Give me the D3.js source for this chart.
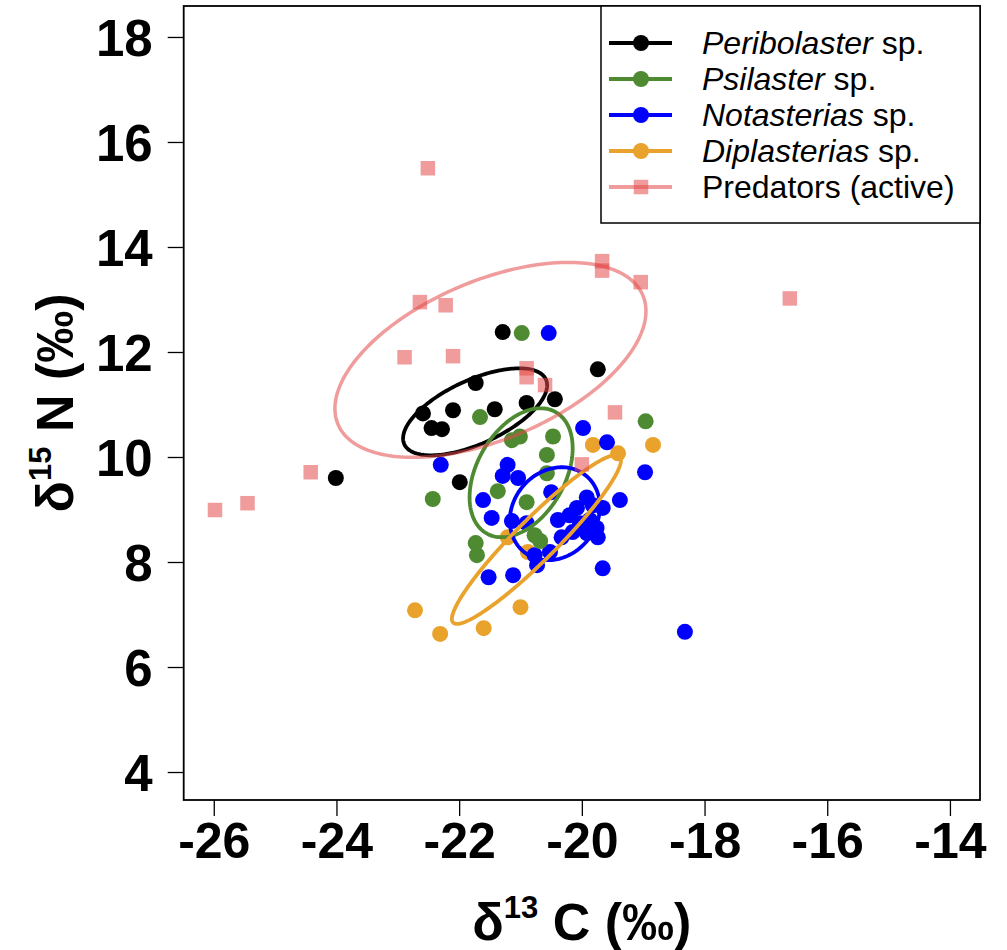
<!DOCTYPE html>
<html>
<head>
<meta charset="utf-8">
<script src="https://cdn.jsdelivr.net/npm/d3@7"></script>
<style>
  body { margin: 0; background: #fff; }
  text { font-family: "Liberation Sans", Arial, sans-serif; }
</style>
</head>
<body>
<div id="chart"></div>
<script>
(function() {
  var xTicks = [-26, -24, -22, -20, -18, -16, -14];
  var yTicks = [4, 6, 8, 10, 12, 14, 16, 18];

  // Peribolaster sp.
  var periX = [-24.01, -21.29, -19.74, -21.73, -22.59, -22.10, -21.42, -22.45, -22.28, -20.90, -20.44, -21.99];
  var periY = [9.60, 12.38, 11.67, 11.41, 10.83, 10.89, 10.91, 10.55, 10.53, 11.03, 11.10, 9.52];

  // Psilaster sp.
  var psilX = [-20.98, -21.66, -21.14, -21.01, -20.47, -20.57, -20.57, -18.96, -22.43, -21.37, -20.90, -21.73, -21.71, -20.77, -20.68];
  var psilY = [12.36, 10.76, 10.32, 10.39, 10.39, 10.04, 9.69, 10.68, 9.20, 9.35, 9.14, 8.36, 8.13, 8.51, 8.40];

  // Notasterias sp.
  var notaX = [-20.54, -22.30, -19.98, -19.59, -18.97, -21.21, -21.29, -21.04, -21.61, -21.47, -21.14, -20.90, -20.50, -19.92, -20.08, -19.82, -19.66, -19.38, -20.39, -20.20, -20.03, -19.87, -19.76, -20.33, -20.15, -19.92, -19.74, -20.52, -20.77, -20.73, -19.66, -21.52, -21.12, -18.32];
  var notaY = [12.36, 9.85, 10.55, 10.28, 9.71, 9.85, 9.64, 9.60, 9.18, 8.84, 8.78, 8.74, 9.33, 9.23, 9.03, 9.08, 9.03, 9.18, 8.80, 8.89, 8.74, 8.80, 8.65, 8.47, 8.57, 8.55, 8.47, 8.19, 8.13, 7.94, 7.88, 7.71, 7.75, 6.67];

  // Diplasterias sp.
  var diplX = [-22.72, -22.31, -21.60, -21.00, -19.82, -18.84, -19.41, -21.21, -20.88];
  var diplY = [7.08, 6.63, 6.74, 7.14, 10.23, 10.23, 10.07, 8.47, 8.19];

  // Predators (active)
  var predX = [-25.98, -25.45, -24.42, -22.51, -22.64, -22.22, -22.89, -22.10, -20.90, -20.90, -20.60, -19.46, -20.00, -19.67, -19.67, -19.04, -16.61];
  var predY = [8.99, 9.12, 9.71, 15.50, 12.95, 12.89, 11.90, 11.92, 11.69, 11.52, 11.37, 10.85, 9.86, 13.73, 13.55, 13.33, 13.02];

  // standard ellipses (centre, sd on each axis, correlation)
  var ellGroup = ['peri', 'psil', 'nota', 'dipl', 'pred'];
  var ellCx = [-21.74, -20.99, -20.44, -20.74, -21.49];
  var ellCy = [10.86, 9.70, 8.92, 8.43, 11.85];
  var ellSx = [1.174, 0.84, 0.734, 1.378, 2.535];
  var ellSy = [0.828, 1.228, 0.885, 1.609, 1.856];
  var ellRho = [0.61, 0.38, 0.15, 0.94, 0.5];

  var legendGenus = ['Peribolaster', 'Psilaster', 'Notasterias', 'Diplasterias', 'Predators (active)'];

  var colors = {
    peri: '#000000',
    psil: '#4e8a31',
    nota: '#0000ff',
    dipl: '#e9a22b',
    pred: '#e34a4a'
  };

  var width = 1007, height = 950;
  var left = 183.7, right = 980, top = 6, bottom = 800;

  var svg = d3.select('#chart').append('svg')
    .attr('width', width)
    .attr('height', height);

  var x = d3.scaleLinear().domain([-26.49, -13.51]).range([left, right]);
  var y = d3.scaleLinear().domain([3.467, 18.59]).range([bottom, top]);

  var zip = function(xs, ys) {
    return xs.map(function(d, i) { return [d, ys[i]]; });
  };

  var drawDots = function(xs, ys, col) {
    svg.append('g').selectAll('circle').data(zip(xs, ys)).enter().append('circle')
      .attr('cx', function(d) { return x(d[0]); })
      .attr('cy', function(d) { return y(d[1]); })
      .attr('r', 8)
      .attr('fill', col);
  };

  drawDots(diplX, diplY, colors.dipl);
  drawDots(notaX, notaY, colors.nota);
  drawDots(psilX, psilY, colors.psil);
  drawDots(periX, periY, colors.peri);

  var line = d3.line()
    .x(function(d) { return x(d[0]); })
    .y(function(d) { return y(d[1]); })
    .curve(d3.curveLinearClosed);

  var ellipsePts = function(i) {
    var pts = [], k, t, r2 = Math.sqrt(1 - ellRho[i] * ellRho[i]);
    for (k = 0; k < 200; k++) {
      t = 2 * Math.PI * k / 200;
      pts.push([ellCx[i] + ellSx[i] * Math.cos(t),
                ellCy[i] + ellSy[i] * (ellRho[i] * Math.cos(t) + r2 * Math.sin(t))]);
    }
    return pts;
  };

  ellGroup.forEach(function(g, i) {
    if (g === 'pred') return;
    svg.append('path')
      .attr('d', line(ellipsePts(i)))
      .attr('fill', 'none')
      .attr('stroke', colors[g])
      .attr('stroke-width', 3.8);
  });

  // predators on top, semi transparent
  var sq = 14.5;
  svg.append('g').selectAll('rect').data(zip(predX, predY)).enter().append('rect')
    .attr('x', function(d) { return x(d[0]) - sq / 2; })
    .attr('y', function(d) { return y(d[1]) - sq / 2; })
    .attr('width', sq)
    .attr('height', sq)
    .attr('fill', colors.pred)
    .attr('fill-opacity', 0.55);

  svg.append('path')
    .attr('d', line(ellipsePts(4)))
    .attr('fill', 'none')
    .attr('stroke', colors.pred)
    .attr('stroke-opacity', 0.55)
    .attr('stroke-width', 3.5);

  // axes
  var xAxis = svg.append('g')
    .attr('transform', 'translate(0,' + bottom + ')')
    .call(d3.axisBottom(x).tickValues(xTicks).tickSize(16).tickSizeOuter(0).tickPadding(6)
      .tickFormat(function(d) { return d; }));
  var yAxis = svg.append('g')
    .attr('transform', 'translate(' + left + ',0)')
    .call(d3.axisLeft(y).tickValues(yTicks).tickSize(16).tickSizeOuter(0).tickPadding(15));

  [xAxis, yAxis].forEach(function(a) {
    a.select('.domain').remove();
    a.selectAll('line').attr('stroke', '#000').attr('stroke-width', 1.3);
    a.selectAll('text')
      .attr('fill', '#000')
      .style('font-family', '"Liberation Sans", Arial, sans-serif')
      .style('font-weight', 'bold');
  });
  xAxis.selectAll('text').attr('dy', '0.71em').style('font-size', '50px');
  yAxis.selectAll('text').attr('dy', '0.36em').style('font-size', '51px');

  // plot box
  svg.append('rect')
    .attr('x', left)
    .attr('y', top)
    .attr('width', right - left)
    .attr('height', bottom - top)
    .attr('fill', 'none')
    .attr('stroke', '#000')
    .attr('stroke-width', 1.8);

  // axis titles
  var xt = svg.append('text')
    .attr('x', (left + right) / 2)
    .attr('y', 940)
    .attr('text-anchor', 'middle')
    .style('font-weight', 'bold')
    .style('font-size', '52px');
  xt.append('tspan').text('δ');
  xt.append('tspan').attr('dy', -22).style('font-size', '31px').text('13');
  xt.append('tspan').attr('dy', 22).text(' C (‰)');

  var yt = svg.append('text')
    .attr('transform', 'translate(73,' + (top + bottom) / 2 + ') rotate(-90)')
    .attr('text-anchor', 'middle')
    .style('font-weight', 'bold')
    .style('font-size', '52px');
  yt.append('tspan').text('δ');
  yt.append('tspan').attr('dy', -22).style('font-size', '31px').text('15');
  yt.append('tspan').attr('dy', 22).text(' N (‰)');

  // legend
  var lg = svg.append('g');
  lg.append('rect')
    .attr('x', 601)
    .attr('y', top)
    .attr('width', right - 601)
    .attr('height', 217)
    .attr('fill', '#fff')
    .attr('stroke', '#000')
    .attr('stroke-width', 1.5);

  ellGroup.forEach(function(g, i) {
    var ly = 43 + i * 36;
    var op = g === 'pred' ? 0.55 : 1;
    lg.append('line')
      .attr('x1', 609).attr('x2', 672)
      .attr('y1', ly).attr('y2', ly)
      .attr('stroke', colors[g])
      .attr('stroke-opacity', op)
      .attr('stroke-width', 4);
    if (g === 'pred') {
      lg.append('rect')
        .attr('x', 641 - sq / 2).attr('y', ly - sq / 2)
        .attr('width', sq).attr('height', sq)
        .attr('fill', colors.pred).attr('fill-opacity', 0.55);
    } else {
      lg.append('circle')
        .attr('cx', 641).attr('cy', ly).attr('r', 8)
        .attr('fill', colors[g]);
    }
    var t = lg.append('text')
      .attr('x', 702)
      .attr('y', ly + 11)
      .style('font-size', '32px');
    if (g === 'pred') {
      t.text(legendGenus[i]);
    } else {
      t.append('tspan').style('font-style', 'italic').text(legendGenus[i]);
      t.append('tspan').text(' sp.');
    }
  });
})();
</script>
</body>
</html>
